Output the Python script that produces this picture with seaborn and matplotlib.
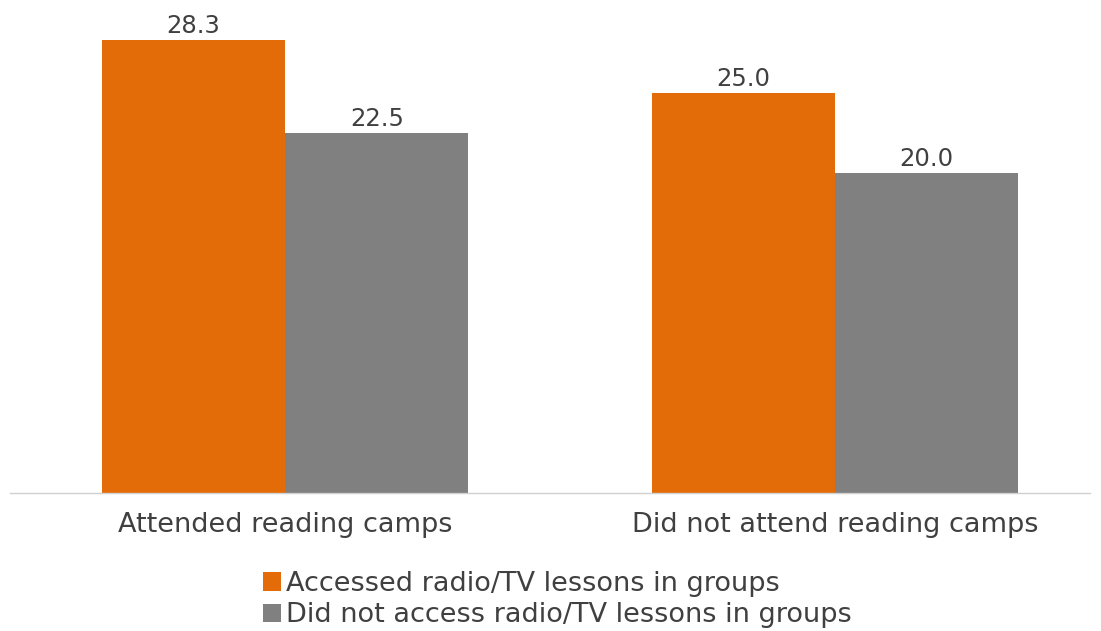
import matplotlib
matplotlib.use("Agg")
import matplotlib.pyplot as plt
import seaborn as sns
import pandas as pd
from matplotlib.patches import Patch

categories = ["Attended reading camps", "Did not attend reading camps"]
series_names = ["Accessed radio/TV lessons in groups", "Did not access radio/TV lessons in groups"]
accessed = [28.3, 25.0]
not_accessed = [22.5, 20.0]
colors = ["#E36C09", "#808080"]

df = pd.DataFrame({
    "category": categories * 2,
    "series": [series_names[0]] * 2 + [series_names[1]] * 2,
    "value": accessed + not_accessed,
})

sns.set_theme(style="white")
plt.rcParams["font.family"] = ["DejaVu Sans"]

W, H = 1101, 631
fig = plt.figure(figsize=(W / 100, H / 100), dpi=100)
ax = fig.add_axes([10 / W, (H - 493) / H, (1090 - 10) / W, 480 / H])

sns.barplot(data=df, x="category", y="value", hue="series", palette=colors,
            hue_order=series_names, order=categories, width=0.667,
            saturation=1, ax=ax, legend=False, linewidth=0)

for cont in ax.containers:
    ax.bar_label(cont, fmt="%.1f", padding=1.5, fontsize=17.5, color="#404040")

ax.set_xlim(-0.5, 1.4636)
ax.set_ylim(0, 30)
ax.set_xlabel("")
ax.set_ylabel("")
ax.set_yticks([])
for s in ["top", "right", "left"]:
    ax.spines[s].set_visible(False)
ax.spines["bottom"].set_color("#d0d0d0")
ax.spines["bottom"].set_linewidth(1)
ax.tick_params(axis="x", length=0, pad=14, labelsize=19.5, labelcolor="#404040")

handles = [Patch(facecolor=c, edgecolor="none") for c in colors]
fig.legend(handles, series_names, loc="upper left", bbox_to_anchor=(263 / W, 1 - 571 / H),
           frameon=False, fontsize=19.5, labelcolor="#404040", handlelength=0.65,
           handleheight=0.65, handletextpad=0.2, labelspacing=0.2, borderaxespad=0,
           borderpad=0)

fig.savefig("out.png", dpi=100)
